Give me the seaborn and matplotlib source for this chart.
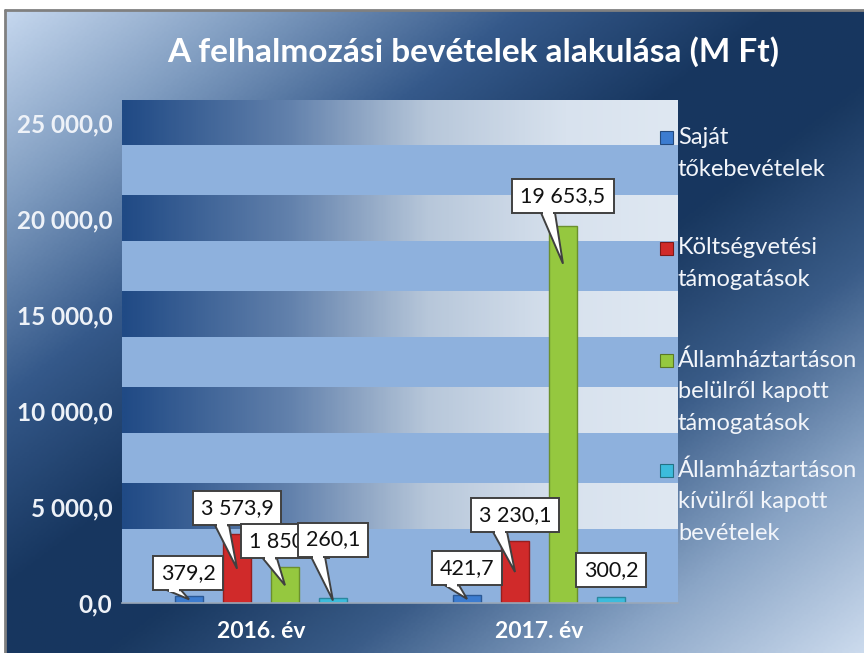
import numpy as np
import pandas as pd
import matplotlib
matplotlib.use("Agg")
import matplotlib.pyplot as plt
import seaborn as sns
from matplotlib.colors import LinearSegmentedColormap, to_rgb
from matplotlib.patches import Rectangle, Polygon
from matplotlib.lines import Line2D

# ---------------- data ----------------
title = "A felhalmozási bevételek alakulása (M Ft)"
years = ["2016. év", "2017. év"]
series = ["Saját tőkebevételek",
          "Költségvetési támogatások",
          "Államháztartáson belülről kapott támogatások",
          "Államháztartáson kívülről kapott bevételek"]
legend_lines = [["Saját", "tőkebevételek"],
                ["Költségvetési", "támogatások"],
                ["Államháztartáson", "belülről kapott", "támogatások"],
                ["Államháztartáson", "kívülről kapott", "bevételek"]]
values_2016 = [379.2, 3573.9, 1850.0, 260.1]
values_2017 = [421.7, 3230.1, 19653.5, 300.2]
yticks = [0, 5000, 10000, 15000, 20000, 25000]
colors = ["#3c7cd0", "#d02a2a", "#95c83f", "#3cbcdc"]

# ---------------- layout constants ----------------
W, H = 864, 653
label_dx = [-1, 0, 0, 0, 0, 0, 0, 0]
label_up = [22.5, 26, 26, 58.5, 26.5, 26, 30, 27]
label_ptr = [True, True, True, True, True, True, True, False]
legend_y = [138, 248, 360, 470]


def fmt(v):
    return f"{v:,.1f}".replace(",", " ").replace(".", ",")


def darker(c, f=0.7):
    r, g, b = to_rgb(c)
    return (r * f, g * f, b * f)


sns.set_theme(style="white")
plt.rcParams['font.family'] = ['Lato', 'DejaVu Sans']

fig = plt.figure(figsize=(W / 100, H / 100), dpi=100)
fig.patch.set_facecolor("white")

# background gradient panel
bg = fig.add_axes([5 / W, 0, 1 - 5 / W, 1 - 10 / H], zorder=-10)
bg.axis("off")
u = np.linspace(0, 1, 400)
v = np.linspace(0, 1, 300)
U, V = np.meshgrid(u, v)
T = (U + V) / 2
cmap_bg = LinearSegmentedColormap.from_list(
    "bg", [(0, "#c5d7ee"), (0.15, "#7f9cc0"), (0.3, "#35598a"), (0.45, "#17365f"),
           (0.56, "#18375f"), (0.7, "#3a5c88"), (0.85, "#8aa5c6"), (1, "#cbdaed")])
bg.imshow(T, cmap=cmap_bg, vmin=0, vmax=1, aspect="auto", extent=[0, 1, 0, 1], origin="upper")
bg.set_xlim(0, 1)
bg.set_ylim(0, 1)
fig.add_artist(Line2D([5 / W, 5 / W], [0, 1 - 10 / H], color="#808080", lw=2, transform=fig.transFigure))
fig.add_artist(Line2D([5 / W, 1], [1 - 10 / H, 1 - 10 / H], color="#808080", lw=2, transform=fig.transFigure))

# main axes
ax = fig.add_axes([122 / W, 50 / H, 556 / W, 503 / H])
ax.set_facecolor("#8eb1dd")
YMAX = 26200
cmap_band = LinearSegmentedColormap.from_list(
    "band", [(0, "#204a85"), (0.3, "#6281ac"), (0.55, "#b7c7da"), (0.8, "#d8e2ee"), (1, "#dfe8f2")])
grad = np.linspace(0, 1, 300).reshape(1, -1)
y0 = 3850
while y0 < YMAX:
    ax.imshow(grad, cmap=cmap_band, aspect="auto", extent=[-0.5, 1.5, y0, min(y0 + 2350, YMAX)],
              zorder=0.5, interpolation="bilinear")
    y0 += 5000

df = pd.DataFrame({"year": np.repeat(years, len(series)),
                   "series": series * len(years),
                   "value": values_2016 + values_2017})
sns.barplot(data=df, x="year", y="value", hue="series", hue_order=series,
            palette=dict(zip(series, colors)), width=0.69, gap=0.4, legend=False,
            errorbar=None, saturation=1, ax=ax, zorder=3)
for p in ax.patches:
    p.set_edgecolor(darker(p.get_facecolor()[:3], 0.72))
    p.set_linewidth(1.0)

ax.set_xlim(-0.5, 1.5)
ax.set_ylim(0, YMAX)
ax.set_yticks(yticks)
ax.set_yticklabels([fmt(t) for t in yticks])
ax.set_xlabel("")
ax.set_ylabel("")
ax.tick_params(axis="y", length=0, pad=7, labelsize=17.5, labelcolor="#eef2f8")
ax.tick_params(axis="x", length=0, pad=13, labelsize=16.5, labelcolor="white")
for lbl in ax.get_yticklabels() + ax.get_xticklabels():
    lbl.set_fontweight("bold")
for s in ["left", "right", "top"]:
    ax.spines[s].set_visible(False)
ax.spines["bottom"].set_color("#9aa8b8")
ax.spines["bottom"].set_linewidth(1.2)
ax.spines["bottom"].set_zorder(4)

# title
fig.text(473 / W, 1 - 52 / H, title, fontsize=24, fontweight="bold", color="white",
         ha="center", va="center")

# legend (manual)
for i, lines in enumerate(legend_lines):
    yc = legend_y[i]
    fig.add_artist(Rectangle(((660) / W, 1 - (yc + 6.5) / H), 13 / W, 13 / H,
                             facecolor=colors[i], edgecolor=darker(colors[i], 0.6), lw=0.8,
                             transform=fig.transFigure))
    for k, line in enumerate(lines):
        fig.text(678 / W, 1 - (yc + 32 * k) / H, line, fontsize=17, color="#f2f5fa",
                 ha="left", va="center")

# data callouts
fig.canvas.draw()
rend = fig.canvas.get_renderer()
bars = sorted(ax.patches, key=lambda p: p.get_x())
for i, p in enumerate(bars):
    xc = p.get_x() + p.get_width() / 2
    val = p.get_height()
    tx, ty = ax.transData.transform((xc, val))
    _, by = ax.transData.transform((xc, 0))
    tip_y = ty - min(38, (ty - by) / 2)
    cx = tx + label_dx[i]
    cy = ty + label_up[i]
    z = 10 + i
    t = fig.text(cx / W, cy / H, fmt(val), fontsize=15.5, color="#111111",
                 ha="center", va="center", zorder=z + 0.3)
    bb = t.get_window_extent(rend)
    bw = bb.width + 16
    bh = 34
    bl, bbot = cx - bw / 2, cy - bh / 2
    if label_ptr[i] and tip_y < bbot - 2:
        xl = max(bl + 4, tx - 22)
        xr = max(bl + 14, tx - 8)
        fig.add_artist(Polygon([(xl / W, bbot / H), (xr / W, bbot / H), (tx / W, tip_y / H)],
                               closed=True, facecolor="white", edgecolor="#404040", lw=1.4,
                               transform=fig.transFigure, zorder=z))
        fig.add_artist(Rectangle(((xl + 1.6) / W, (bbot - 2) / H), (xr - xl - 3.2) / W, 3.5 / H,
                                 facecolor="white", edgecolor="none",
                                 transform=fig.transFigure, zorder=z + 0.2))
    fig.add_artist(Rectangle((bl / W, bbot / H), bw / W, bh / H, facecolor="white",
                             edgecolor="#404040", lw=1.4, transform=fig.transFigure, zorder=z + 0.1))

fig.savefig("out.png", dpi=100, facecolor="white")
